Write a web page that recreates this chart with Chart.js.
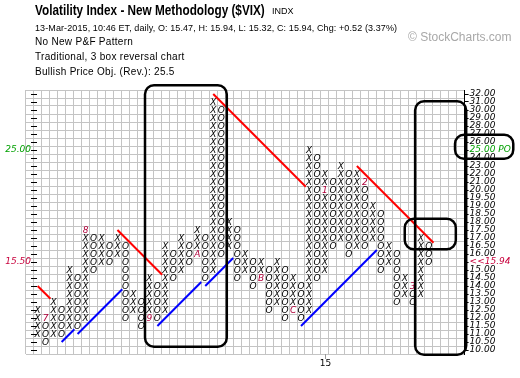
<!DOCTYPE html>
<html>
<head>
<meta charset="utf-8">
<title>$VIX Point &amp; Figure</title>
<script src="https://cdn.jsdelivr.net/npm/chart.js@4/dist/chart.umd.min.js"></script>
<style>
  body { margin: 0; background: #fff; }
  #wrap { position: relative; width: 520px; height: 378px; overflow: hidden; }
  #pf { position: absolute; left: 0; top: 0; }
  .hd { position: absolute; white-space: nowrap; color: #000; font-family: "Liberation Sans", Arial, sans-serif; }
  #title { left: 35px; top: 2px; font-weight: bold; font-size: 14px; line-height: 16px; transform: scaleX(0.84); transform-origin: 0 0; }
  #indx { left: 272px; top: 6px; font-size: 9px; line-height: 10px; }
  .info { left: 35px; font-size: 10px; line-height: 12px; letter-spacing: 0.3px; }
  .info.first { font-size: 9px; letter-spacing: 0.1px; }
  #copy { left: 408px; top: 30px; font-size: 12px; line-height: 14px; color: #a8a8a8; }
</style>
</head>
<body>
<div id="wrap">
  <canvas id="pf" width="520" height="378"></canvas>
  <div class="hd" id="title">Volatility Index - New Methodology ($VIX)</div>
  <div class="hd" id="indx">INDX</div>
  <div class="hd info first" style="top:22px">13-Mar-2015, 10:46 ET, daily, O: 15.47, H: 15.94, L: 15.32, C: 15.94, Chg: +0.52 (3.37%)</div>
  <div class="hd info" style="top:36px">No New P&amp;F Pattern</div>
  <div class="hd info" style="top:51px">Traditional, 3 box reversal chart</div>
  <div class="hd info" style="top:66px">Bullish Price Obj. (Rev.): 25.5</div>
  <div class="hd" id="copy">&copy; StockCharts.com</div>
</div>
<script>
// box scale (1.00 boxes above 20, 0.50 below)
const boxes = [10.0, 10.5, 11.0, 11.5, 12.0, 12.5, 13.0, 13.5, 14.0, 14.5, 15.0, 15.5, 16.0, 16.5, 17.0, 17.5,
  18.0, 18.5, 19.0, 19.5, 20.0, 21.0, 22.0, 23.0, 24.0, 25.0, 26.0, 27.0, 28.0, 29.0, 30.0, 31.0, 32.0];
const boxLabels = boxes.map(v => v.toFixed(2));

// columns: kind, first box, last box
const colKind = "XOXOXOXOXOXOXOXOXOXOXOXOXOXOXOXOXOXOXOXOXOXOXOXOXO";
const colFrom = [11, 12, 11, 12.5, 11.5, 14.5, 12, 17, 15.5, 16.5, 16, 16.5, 12.5, 13, 12, 14, 12.5, 16, 15, 16.5,
  16, 17, 15, 30, 16.5, 17.5, 15, 15.5, 14.5, 15, 13, 15, 12.5, 14, 12.5, 24, 15, 21, 17, 22,
  16.5, 21, 17, 18.5, 15.5, 16, 13.5, 14, 13.5, 16.5];
const colTo = [12.5, 10.5, 13, 11, 15, 11.5, 17.5, 15, 17, 15.5, 17, 12, 13.5, 11.5, 14.5, 12, 16.5, 14.5, 17, 15.5,
  17.5, 14.5, 31, 16, 18, 14.5, 16, 14, 15.5, 12.5, 15.5, 12, 14.5, 12, 25, 14.5, 22, 16.5, 23, 16,
  22, 16.5, 19, 15, 16.5, 13, 14.5, 13, 17, 15.5];

// month markers (first box of each month)
const monthCol = [1, 6, 14, 20, 28, 32, 36, 41, 47];
const monthBox = [12, 17.5, 12, 16, 14.5, 12.5, 20, 21, 14];
const monthText = ["7", "8", "9", "A", "B", "C", "1", "2", "3"];

// trend lines: start column, start box, run in columns (45 degrees)
const resistLines = [[0, 14, 1.6], [10, 17.5, 5.6], [22, 32, 11.6], [40, 23, 9.6]];
const supportLines = [[3, 10.5, 1.6], [5, 11, 5.6], [15, 11.5, 5.5], [21, 14, 3.5], [33, 11.5, 9.5]];

const yearCol = [36];
const yearText = ["15"];
const lastPrice = 15.94, lastBox = 15.5;
const objective = 25;

const rowOf = p => boxes.indexOf(p);

const xPts = [], oPts = [], mPts = [];
colKind.split("").forEach((k, c) => {
  let a = rowOf(colFrom[c]), b = rowOf(colTo[c]);
  if (a > b) [a, b] = [b, a];
  for (let r = a; r <= b; r++) {
    const m = monthCol.findIndex((mc, i) => mc === c && rowOf(monthBox[i]) === r);
    if (m >= 0) continue;
    if (k === "X") xPts.push({ x: c, y: r }); else oPts.push({ x: c, y: r });
  }
});
monthCol.forEach((c, i) => mPts.push({ x: c, y: rowOf(monthBox[i]) }));

const lineSet = (arr, color, dir) => arr.map(([c, b, n]) => ({
  data: [{ x: c, y: rowOf(b) }, { x: c + n, y: rowOf(b) + dir * n }],
  showLine: true, pointRadius: 0, borderColor: color, borderWidth: 2
}));

const glyph = (pts, txt, color) => ({
  data: pts, pointRadius: 0, glyphs: txt, glyphColor: color
});

const GLYPH_FONT = 'italic 9px "DejaVu Sans", sans-serif';
const LABEL_FONT = 'italic 9px "DejaVu Sans", sans-serif';

const pfText = {
  id: "pfText",
  beforeDatasetsDraw(chart) {
    const ctx = chart.ctx;
    chart.data.datasets.forEach((ds, i) => {
      if (!ds.glyphs) return;
      const meta = chart.getDatasetMeta(i);
      ctx.save();
      ctx.font = GLYPH_FONT;
      ctx.fillStyle = ds.glyphColor;
      ctx.textAlign = "center";
      ctx.textBaseline = "alphabetic";
      meta.data.forEach((el, j) => {
        const t = typeof ds.glyphs === "string" ? ds.glyphs : ds.glyphs[j];
        ctx.fillText(t, el.x, el.y + 3.4);
      });
      ctx.restore();
    });
  }
};

// hand-drawn annotation boxes, in column / row units
const notes = [[13.45, 33.1, 23.7, 0.4], [47.3, 31.1, 53.7, -0.6], [46.0, 16.4, 52.4, 12.6], [52.3, 26.9, 59.6, 23.9]];

const extras = {
  id: "extras",
  afterDatasetsDraw(chart) {
    const { ctx, scales: { x, y } } = chart;
    ctx.save();
    ctx.strokeStyle = "#000";
    ctx.lineWidth = 2.5;
    notes.forEach(([c1, r1, c2, r2]) => {
      const x1 = x.getPixelForValue(c1), x2 = x.getPixelForValue(c2);
      const y1 = y.getPixelForValue(r1), y2 = y.getPixelForValue(r2);
      const rad = 9;
      ctx.beginPath();
      ctx.moveTo(x1 + rad, y1);
      ctx.arcTo(x2, y1, x2, y2, rad);
      ctx.arcTo(x2, y2, x1, y2, rad);
      ctx.arcTo(x1, y2, x1, y1, rad);
      ctx.arcTo(x1, y1, x2, y1, rad);
      ctx.closePath();
      ctx.stroke();
    });
    // left side ticks and labels
    ctx.lineWidth = 1;
    ctx.beginPath();
    boxes.forEach((b, r) => {
      const py = Math.round(y.getPixelForValue(r)) + 0.5;
      ctx.moveTo(31, py); ctx.lineTo(37, py);
    });
    ctx.stroke();
    ctx.font = LABEL_FONT;
    ctx.textAlign = "right";
    ctx.textBaseline = "middle";
    ctx.fillStyle = "#00a000";
    ctx.fillText(objective.toFixed(2), 31, y.getPixelForValue(rowOf(objective)));
    ctx.fillStyle = "#c8003c";
    ctx.fillText(lastBox.toFixed(2), 31, y.getPixelForValue(rowOf(lastBox)));
    // year marks along the bottom
    ctx.strokeStyle = "#999";
    ctx.fillStyle = "#000";
    ctx.textAlign = "center";
    ctx.textBaseline = "top";
    ctx.font = '9px "DejaVu Sans", sans-serif';
    yearCol.forEach((c, i) => {
      const px = Math.round(x.getPixelForValue(c)) + 0.5;
      ctx.beginPath();
      ctx.moveTo(px, chart.chartArea.bottom); ctx.lineTo(px, chart.chartArea.bottom + 5);
      ctx.stroke();
      ctx.fillText(yearText[i], px, chart.chartArea.bottom + 5);
    });
    ctx.restore();
  }
};

const rightLabel = r => {
  if (boxes[r] === lastBox) return "<<" + lastPrice.toFixed(2);
  if (boxes[r] === objective) return boxLabels[r] + " PO";
  return boxLabels[r];
};

new Chart(document.getElementById("pf"), {
  type: "scatter",
  data: {
    datasets: [
      glyph(xPts, "X", "#000"),
      glyph(oPts, "O", "#000"),
      glyph(mPts, monthText, "#b0003a"),
      ...lineSet(resistLines, "#ff0000", -1),
      ...lineSet(supportLines, "#0000ff", 1)
    ]
  },
  options: {
    responsive: false,
    animation: false,
    events: [],
    layout: { padding: { left: 25.7, right: 0, top: 90, bottom: 24 } },
    plugins: { legend: { display: false }, tooltip: { enabled: false } },
    scales: {
      x: {
        type: "linear", min: -1.5, max: 53.5,
        afterBuildTicks: s => { s.ticks = Array.from({ length: 56 }, (_, i) => ({ value: i - 1.5 })); },
        afterFit: s => { s.height = 0; },
        ticks: { display: false },
        grid: { color: "#c4c4c4", drawTicks: false },
        border: { display: false }
      },
      y: {
        type: "linear", min: -0.5, max: 32.5,
        afterBuildTicks: s => { s.ticks = Array.from({ length: 34 }, (_, i) => ({ value: i - 0.5 })); },
        afterFit: s => { s.width = 0; },
        ticks: { display: false },
        grid: { color: "#c4c4c4", drawTicks: false },
        border: { display: false }
      },
      yr: {
        type: "linear", position: "right", min: -0.5, max: 32.5,
        afterBuildTicks: s => { s.ticks = boxes.map((b, i) => ({ value: i })); },
        afterFit: s => { s.width = 55.4; },
        ticks: {
          callback: (v) => rightLabel(v), autoSkip: false, padding: 1,
          font: { size: 9, style: "italic", family: '"DejaVu Sans", sans-serif' },
          color: c => {
            const b = boxes[c.index];
            if (b === lastBox) return "#c8003c";
            if (b === objective) return "#00a000";
            return "#000";
          }
        },
        grid: { drawOnChartArea: false, tickLength: 4, color: "#000" },
        border: { display: true, color: "#000" }
      }
    }
  },
  plugins: [pfText, extras]
});
</script>
</body>
</html>
